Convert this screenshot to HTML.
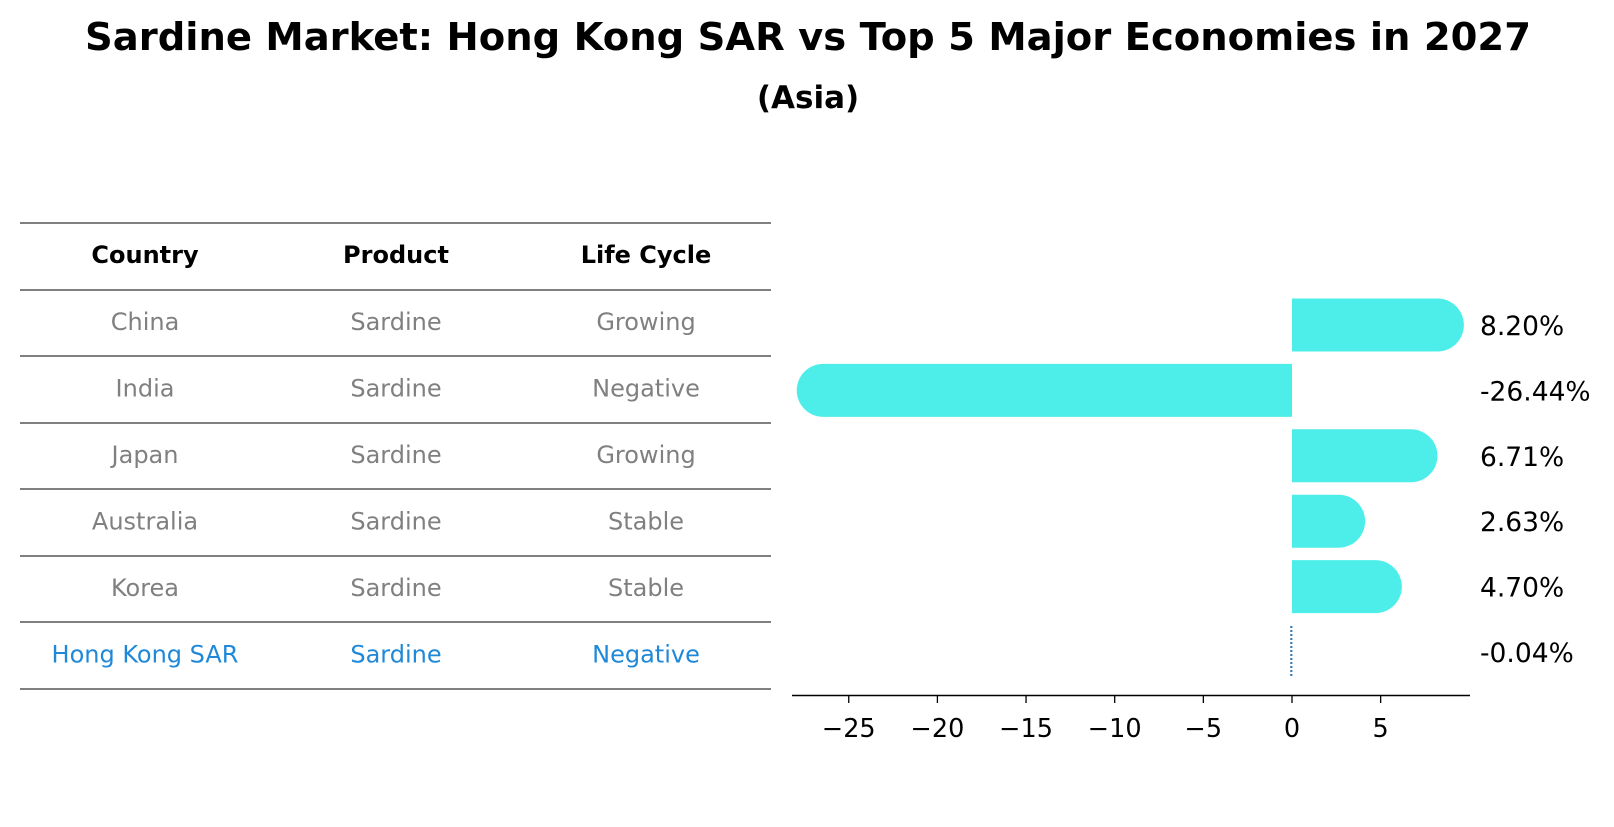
<!DOCTYPE html>
<html><head><meta charset="utf-8"><style>
body{margin:0;background:#fff;width:1614px;height:823px;overflow:hidden;font-family:"DejaVu Sans","Liberation Sans",sans-serif}
</style></head><body>
<svg width="1614" height="823" xmlns="http://www.w3.org/2000/svg" font-family="DejaVu Sans, Liberation Sans, sans-serif">
<text x="808" y="50" text-anchor="middle" font-size="38.5" font-weight="bold">Sardine Market: Hong Kong SAR vs Top 5 Major Economies in 2027</text>
<text x="808" y="108" text-anchor="middle" font-size="31" font-weight="bold">(Asia)</text>
<g id="table"></g>
<g id="bars"></g>
</svg>
<script>
const countries=["China","India","Japan","Australia","Korea","Hong Kong SAR"];
const products=["Sardine","Sardine","Sardine","Sardine","Sardine","Sardine"];
const lifeCycles=["Growing","Negative","Growing","Stable","Stable","Negative"];
const growth=[8.20,-26.44,6.71,2.63,4.70,-0.04];
const xTicks=[-25,-20,-15,-10,-5,0,5];
const NS="http://www.w3.org/2000/svg";
function mk(t,a,p){const e=document.createElementNS(NS,t);for(const k in a)e.setAttribute(k,a[k]);p.appendChild(e);return e;}
const tbl=document.getElementById('table');
const lineYs=[223,290,356,423,489,556,622,689];
lineYs.forEach((y,i)=>{const l=mk('line',{x1:20,x2:771,y1:y,y2:y,stroke:'#000','stroke-width':1.1},tbl);

});
const colX=[145,396,646];
["Country","Product","Life Cycle"].forEach((h,i)=>{const t=mk('text',{x:colX[i],y:263,'text-anchor':'middle','font-size':24,'font-weight':'bold'},tbl);t.textContent=h;

});
countries.forEach((c,r)=>{const y=(lineYs[r+1]+lineYs[r+2])/2+7;const last=r===countries.length-1;
[c,products[r],lifeCycles[r]].forEach((v,i)=>{const t=mk('text',{x:colX[i],y:y,'text-anchor':'middle','font-size':24,fill:last?'#1f88d8':'#808080'},tbl);t.textContent=v;

});});
// bar chart
const g=document.getElementById('bars');
const x0=1292,ppu=17.73;const xs=v=>x0+v*ppu;
const rowY=r=>325+r*65.4;const bh=53,cap=26.5;
growth.forEach((v,r)=>{const cy=rowY(r);
if(Math.abs(v)<0.5){const l=mk('line',{x1:xs(v),x2:xs(v),y1:cy-26,y2:cy+26,stroke:'#3a7ab8','stroke-width':2.2,'stroke-dasharray':'2,2'},g);

}
else{const xe=xs(v);const s=v>=0?1:-1;
const d=`M${x0},${cy-bh/2} L${xe},${cy-bh/2} A${cap},${cap} 0 0 ${s>0?1:0} ${xe},${cy+bh/2} L${x0},${cy+bh/2} Z`;
const p=mk('path',{d:d,fill:'#4deeea'},g);

}
const t=mk('text',{x:1480,y:cy+10,'font-size':26.5},g);t.textContent=v.toFixed(2)+'%';

});
const ax=mk('line',{x1:792,x2:1470,y1:695.5,y2:695.5,stroke:'#000','stroke-width':1.4},g);


xTicks.forEach(v=>{const tk=mk('line',{x1:xs(v),x2:xs(v),y1:695,y2:703,stroke:'#000','stroke-width':1.3},g);


const t=mk('text',{x:xs(v),y:737,'text-anchor':'middle','font-size':25.5},g);t.textContent=v<0?'\u2212'+Math.abs(v):String(v);

});
</script>
</body></html>
